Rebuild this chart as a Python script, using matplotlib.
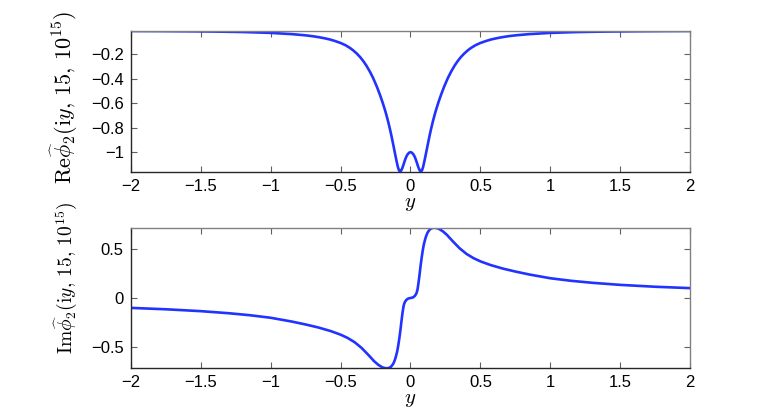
"""Re and Im parts of phi_2(iy, 15, 1e15) along the imaginary axis."""
import matplotlib
matplotlib.use("Agg")
import matplotlib.pyplot as plt

matplotlib.rcParams["mathtext.fontset"] = "cm"
matplotlib.rcParams["font.family"] = ["Liberation Sans", "DejaVu Sans"]
matplotlib.rcParams["axes.unicode_minus"] = True

# values
y_re = [-2.0, -1.8, -1.6, -1.4, -1.2, -1.0, -0.85, -0.75, -0.7, -0.65, -0.61,
        -0.575, -0.54, -0.5, -0.465, -0.432, -0.41, -0.385, -0.36, -0.337,
        -0.315, -0.29, -0.266, -0.24, -0.218, -0.2, -0.182, -0.172, -0.16,
        -0.147, -0.135, -0.123, -0.115, -0.107, -0.099, -0.09, -0.082, -0.074,
        -0.066, -0.058, -0.05, -0.04, -0.03, -0.02, -0.01,
        0.0, 0.01, 0.02, 0.03, 0.04, 0.05, 0.058, 0.066, 0.074, 0.082, 0.09,
        0.099, 0.107, 0.115, 0.123, 0.135, 0.147, 0.16, 0.172, 0.182, 0.2,
        0.218, 0.24, 0.266, 0.29, 0.315, 0.337, 0.36, 0.385, 0.41, 0.432,
        0.465, 0.5, 0.54, 0.575, 0.61, 0.65, 0.7, 0.75, 0.85, 1.0, 1.2, 1.4,
        1.6, 1.8, 2.0]
re_phi = [-0.0127, -0.0135, -0.0150, -0.0172, -0.021, -0.028, -0.038, -0.048,
          -0.055, -0.064, -0.073, -0.082, -0.094, -0.110, -0.128, -0.151,
          -0.170, -0.195, -0.225, -0.258, -0.295, -0.344, -0.398, -0.467,
          -0.533, -0.592, -0.657, -0.697, -0.749, -0.810, -0.872, -0.939,
          -0.985, -1.03, -1.074, -1.12, -1.147, -1.155, -1.147, -1.127, -1.10,
          -1.065, -1.035, -1.015, -1.003,
          -0.998, -1.003, -1.015, -1.035, -1.065, -1.10, -1.127, -1.147,
          -1.155, -1.147, -1.12, -1.074, -1.03, -0.985, -0.939, -0.872, -0.810,
          -0.749, -0.697, -0.657, -0.592, -0.533, -0.467, -0.398, -0.344,
          -0.295, -0.258, -0.225, -0.195, -0.170, -0.151, -0.128, -0.110,
          -0.094, -0.082, -0.073, -0.064, -0.055, -0.048, -0.038, -0.028,
          -0.021, -0.0172, -0.0150, -0.0135, -0.0127]

y_im = [-2.0, -1.75, -1.5, -1.3, -1.15, -1.0, -0.85, -0.75, -0.66, -0.57,
        -0.5, -0.45, -0.4, -0.35, -0.3, -0.26, -0.23, -0.2, -0.175, -0.155,
        -0.14, -0.125, -0.118, -0.11, -0.103, -0.095, -0.088, -0.08, -0.072,
        -0.065, -0.057, -0.05, -0.045, -0.04, -0.03, -0.02, -0.01,
        0.0, 0.01, 0.02, 0.03, 0.04, 0.045, 0.05, 0.057, 0.065, 0.072, 0.08,
        0.088, 0.095, 0.103, 0.11, 0.118, 0.125, 0.14, 0.155, 0.175, 0.2,
        0.23, 0.26, 0.3, 0.35, 0.4, 0.45, 0.5, 0.57, 0.66, 0.75, 0.85, 1.0,
        1.15, 1.3, 1.5, 1.75, 2.0]
im_phi = [-0.1, -0.114, -0.133, -0.154, -0.174, -0.2, -0.238, -0.268, -0.298,
          -0.335, -0.371, -0.404, -0.447, -0.505, -0.578, -0.640, -0.677,
          -0.703, -0.712, -0.709, -0.697, -0.67, -0.65, -0.62, -0.585, -0.54,
          -0.485, -0.41, -0.325, -0.24, -0.15, -0.085, -0.058, -0.04, -0.02,
          -0.008, -0.003,
          0.0, 0.003, 0.008, 0.02, 0.04, 0.058, 0.085, 0.15, 0.24, 0.325,
          0.41, 0.485, 0.54, 0.585, 0.62, 0.65, 0.67, 0.697, 0.709, 0.712,
          0.703, 0.677, 0.640, 0.578, 0.505, 0.447, 0.404, 0.371, 0.335, 0.298,
          0.268, 0.238, 0.2, 0.174, 0.154, 0.133, 0.114, 0.1]

x_ticks = [-2, -1.5, -1, -0.5, 0, 0.5, 1, 1.5, 2]
x_ticklabels = ["\u22122", "\u22121.5", "\u22121", "\u22120.5", "0", "0.5", "1", "1.5", "2"]
re_ticks = [-1, -0.8, -0.6, -0.4, -0.2]
re_ticklabels = ["\u22121", "\u22120.8", "\u22120.6", "\u22120.4", "\u22120.2"]
im_ticks = [-0.5, 0, 0.5]
im_ticklabels = ["\u22120.5", "0", "0.5"]

LINE = "#2233ff"

fig = plt.figure(figsize=(7.63, 4.15), dpi=100)
ax_re = fig.add_axes([0.1713, 0.5855, 0.7334, 0.3398])
ax_im = fig.add_axes([0.1713, 0.1125, 0.7334, 0.3388])

# (axes, x, y, ylim, ticks, ticklabels, ylabel, label size, label centre)
panels = [
    (ax_re, y_re, re_phi, (-1.16, -0.0127), re_ticks, re_ticklabels,
     r"$\mathrm{Re}\widehat{\phi}_2(\mathrm{i}y,\, 15,\, 10^{15})$", 16, 0.53),
    (ax_im, y_im, im_phi, (-0.712, 0.712), im_ticks, im_ticklabels,
     r"$\mathrm{Im}\widehat{\phi}_2(\mathrm{i}y,\, 15,\, 10^{15})$", 14, 0.64),
]

for ax, xs, vals, ylim, yt, ytl, label, lsize, lpos in panels:
    ax.plot(xs, vals, color=LINE, linewidth=1.9, solid_capstyle="round",
            solid_joinstyle="round")
    ax.set_xlim(-2, 2)
    ax.set_ylim(*ylim)
    ax.set_xticks(x_ticks)
    ax.set_xticklabels(x_ticklabels)
    ax.set_yticks(yt)
    ax.set_yticklabels(ytl)
    ax.tick_params(direction="in", length=4, width=0.8, color="#606060",
                   top=True, right=True, labelsize=12, pad=5)
    for side in ["left", "bottom"]:
        ax.spines[side].set_color("#262626")
    for side in ["top", "right"]:
        ax.spines[side].set_color("#808080")
    for sp in ax.spines.values():
        sp.set_linewidth(1.0)
    ax.set_xlabel(r"$y$", fontsize=15, labelpad=0)
    ax.set_ylabel(label, fontsize=lsize)
    ax.yaxis.set_label_coords(-0.09, lpos)

fig.savefig("out.png", dpi=100)
